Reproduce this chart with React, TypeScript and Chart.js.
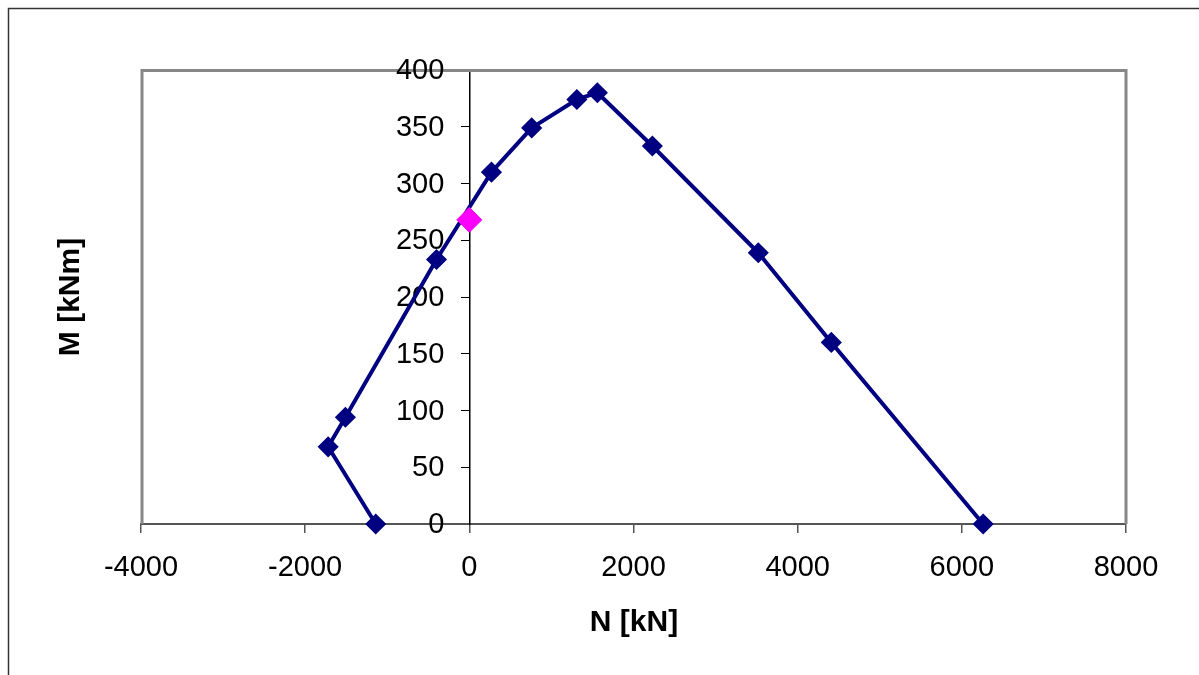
import React, { useEffect, useRef } from 'react';
import { Chart, registerables } from 'chart.js';

Chart.register(...registerables);

// Interaction diagram points (N [kN], M [kNm])
const N_VALUES = [-1140, -1720, -1510, -400, 270, 760, 1310, 1560, 2230, 3520, 4410, 6260];
const M_VALUES = [0, 68, 94, 233, 310, 349, 374, 380, 333, 239, 160, 0];
// Design point
const DESIGN_N = [0];
const DESIGN_M = [268];

const X_MIN = -4000;
const X_MAX = 8000;
const X_STEP = 2000;
const Y_MIN = 0;
const Y_MAX = 400;
const Y_STEP = 50;

const X_TITLE = 'N [kN]';
const Y_TITLE = 'M [kNm]';

const FONT = "'Liberation Sans', Arial, sans-serif";
const TICK_SIZE = 29;

const framePlugin = {
  id: 'excelFrame',
  beforeDatasetsDraw(chart: any) {
    const { ctx, chartArea: a } = chart;
    ctx.save();
    // plot area border
    ctx.strokeStyle = '#878787';
    ctx.lineWidth = 3;
    ctx.beginPath();
    ctx.moveTo(a.left + 1, a.bottom);
    ctx.lineTo(a.left + 1, a.top + 0.5);
    ctx.lineTo(a.right, a.top + 0.5);
    ctx.lineTo(a.right, a.bottom);
    ctx.stroke();
    // y tick labels, placed left of the y axis (which sits at x = 0)
    const ys = chart.scales.y;
    const xs = chart.scales.x;
    const axisX = xs.getPixelForValue(0);
    ctx.fillStyle = '#000';
    ctx.font = `${TICK_SIZE}px ${FONT}`;
    ctx.textAlign = 'right';
    ctx.textBaseline = 'middle';
    ys.ticks.forEach((t: any) => {
      ctx.fillText(String(t.value), axisX - 25, ys.getPixelForValue(t.value) + 1);
    });
    ctx.restore();
  },
  afterDraw(chart: any) {
    const { ctx } = chart;
    ctx.save();
    // outer chart border
    ctx.strokeStyle = '#333333';
    ctx.lineWidth = 1.5;
    ctx.beginPath();
    ctx.moveTo(8.5, chart.height);
    ctx.lineTo(8.5, 8.5);
    ctx.lineTo(chart.width, 8.5);
    ctx.stroke();
    // axis titles
    ctx.fillStyle = '#000';
    ctx.font = `bold 30px ${FONT}`;
    ctx.textAlign = 'center';
    ctx.textBaseline = 'middle';
    ctx.fillText(X_TITLE, 634, 623);
    ctx.translate(71, 297);
    ctx.rotate(-Math.PI / 2);
    ctx.fillText(Y_TITLE, 0, 0);
    ctx.restore();
  },
};

export default function App() {
  const ref = useRef<HTMLCanvasElement | null>(null);

  useEffect(() => {
    if (!ref.current) return;
    const curve = N_VALUES.map((n, i) => ({ x: n, y: M_VALUES[i] }));
    const design = DESIGN_N.map((n, i) => ({ x: n, y: DESIGN_M[i] }));
    const chart = new Chart(ref.current, {
      type: 'scatter',
      data: {
        datasets: [
          {
            label: 'Design',
            data: design,
            order: 0,
            showLine: false,
            pointStyle: 'rectRot',
            pointRadius: 12.5,
            pointBackgroundColor: '#ff00ff',
            pointBorderColor: '#ff00ff',
            pointBorderWidth: 1,
          },
          {
            label: 'M-N',
            data: curve,
            order: 1,
            showLine: true,
            tension: 0,
            borderColor: '#000080',
            borderWidth: 4,
            borderJoinStyle: 'round',
            pointStyle: 'rectRot',
            pointRadius: 9.5,
            pointBackgroundColor: '#000080',
            pointBorderColor: '#000080',
            pointBorderWidth: 1.5,
          },
        ],
      },
      options: {
        animation: false,
        responsive: false,
        clip: false as any,
        layout: { padding: { left: 141, top: 70, right: 73, bottom: 151 } },
        plugins: {
          legend: { display: false },
          tooltip: { enabled: false },
        },
        scales: {
          x: {
            type: 'linear',
            min: X_MIN,
            max: X_MAX,
            position: { y: 0 } as any,
            grid: {
              display: true,
              drawOnChartArea: false,
              drawTicks: true,
              tickLength: 8,
              color: '#555555',
              lineWidth: 1.5,
            },
            border: { display: true, color: '#555555', width: 2 },
            ticks: {
              stepSize: X_STEP,
              color: '#000',
              font: { family: FONT, size: TICK_SIZE },
              padding: 19,
              maxRotation: 0,
              callback: (v: any) => String(v),
            },
          },
          y: {
            type: 'linear',
            min: Y_MIN,
            max: Y_MAX,
            position: { x: 0 } as any,
            grid: {
              display: true,
              drawOnChartArea: false,
              drawTicks: true,
              tickLength: 8,
              color: '#000',
              lineWidth: 1,
            },
            border: { display: true, color: '#000', width: 1.5 },
            ticks: {
              stepSize: Y_STEP,
              display: false,
              color: '#000',
              font: { family: FONT, size: TICK_SIZE },
            },
          },
        },
      },
      plugins: [framePlugin],
    });
    return () => chart.destroy();
  }, []);

  return (
    <div style={{ position: 'fixed', left: 0, top: 0, width: 1199, height: 675, background: '#fff' }}>
      <canvas ref={ref} width={1199} height={675} style={{ display: 'block', width: 1199, height: 675 }} />
    </div>
  );
}
